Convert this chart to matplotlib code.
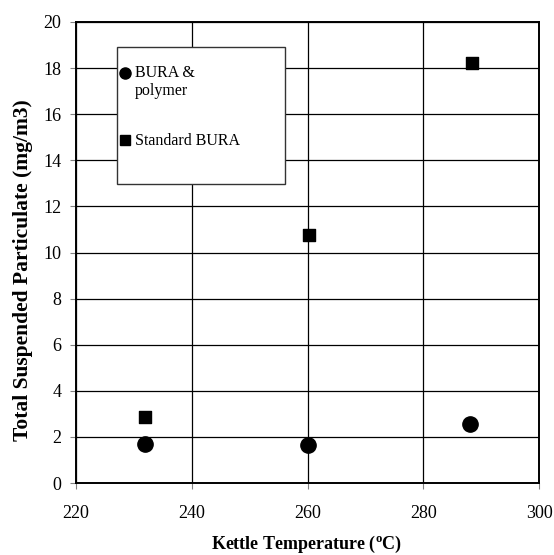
import matplotlib
matplotlib.use("Agg")
import matplotlib.pyplot as plt
from matplotlib.patches import Rectangle

plt.rcParams['font.family'] = ['Liberation Serif', 'DejaVu Serif']

# data
temp_polymer = [232, 260, 288]
tsp_polymer = [1.7, 1.66, 2.57]
temp_standard = [232, 260.3, 288.5]
tsp_standard = [2.86, 10.75, 18.2]

x_ticks = [220, 240, 260, 280, 300]
y_ticks = [0, 2, 4, 6, 8, 10, 12, 14, 16, 18, 20]

fig = plt.figure(figsize=(5.54, 5.55), dpi=100)
ax = fig.add_axes([76/554, (555-483)/555, (539-76)/554, (483-22)/555])

ax.scatter(temp_polymer, tsp_polymer, s=11**2, marker='o', color='black', zorder=3)
ax.scatter(temp_standard, tsp_standard, s=8**2, marker='s', color='black', zorder=3)

ax.set_xlim(220, 300)
ax.set_ylim(0, 20)
ax.set_xticks(x_ticks)
ax.set_yticks(y_ticks)
ax.grid(True, color='black', linewidth=0.9)
ax.set_axisbelow(True)
for s in ax.spines.values():
    s.set_linewidth(1.4)
ax.tick_params(direction='out', length=4, width=0.8, color='grey', labelsize=13)
ax.tick_params(axis='x', pad=12)
ax.tick_params(axis='y', pad=6.5)

ax.set_xlabel('Kettle Temperature ($\\mathregular{^o}$C)', fontsize=13, fontweight='bold', va='center')
ax.xaxis.set_label_coords(0.498, -0.133)
ax.set_ylabel('Total Suspended Particulate (mg/m3)', fontsize=15.5, fontweight='bold', va='center')
ax.yaxis.set_label_coords(-0.114, 0.462)

# legend box, drawn by hand to keep the two-line label layout
ax.add_patch(Rectangle((0.088, 0.649), 0.364, 0.297, transform=ax.transAxes,
                       facecolor='white', edgecolor='#333333', linewidth=1.0, zorder=4))
ax.plot([0.105], [0.890], marker='o', markersize=8, color='black',
        transform=ax.transAxes, zorder=5, clip_on=False)
ax.plot([0.105], [0.744], marker='s', markersize=7, color='black',
        transform=ax.transAxes, zorder=5, clip_on=False)
ax.text(0.127, 0.880, 'BURA &', transform=ax.transAxes, fontsize=11.5, va='baseline', zorder=5)
ax.text(0.127, 0.842, 'polymer', transform=ax.transAxes, fontsize=11.5, va='baseline', zorder=5)
ax.text(0.127, 0.733, 'Standard BURA', transform=ax.transAxes, fontsize=11.5, va='baseline', zorder=5)

fig.savefig('out.png', dpi=100)
